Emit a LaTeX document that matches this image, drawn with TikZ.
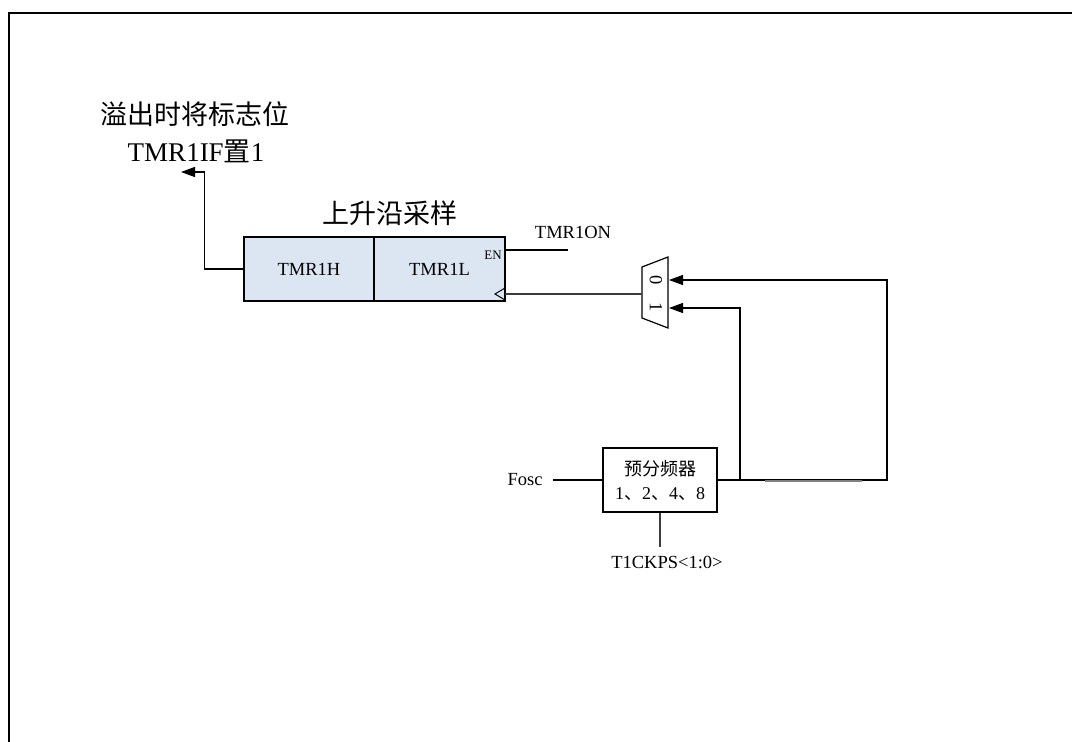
\documentclass[tikz,border=0pt]{standalone}
\usepackage{fontspec}
\setmainfont{Liberation Serif}
\newfontfamily\cjk{Noto Sans CJK SC}
\usetikzlibrary{arrows.meta}
\definecolor{regblue}{RGB}{220,230,242}
\definecolor{wire}{RGB}{60,60,60}
\begin{document}
\begin{tikzpicture}[x=1pt,y=-1pt, line width=1.2pt,
  lbl/.style={inner sep=0pt, font=\fontsize{18.5}{22}\selectfont},
  big/.style={inner sep=0pt, font=\fontsize{27}{32}\selectfont},
  reg/.style={draw, fill=regblue, minimum width=130pt, minimum height=64pt, inner sep=0pt, font=\fontsize{18.5}{22}\selectfont},
  arr/.style={-{Triangle[length=14pt,width=10pt]}}]
\useasboundingbox (0,0) rectangle (1072,742);
\draw[line width=1.6pt] (1072,13) -- (9,13) -- (9,742);

% register
\node[reg] (h) at (309,269) {TMR1H};
\node[reg, minimum width=131pt] (l) at (439.5,269) {TMR1L};
\node[inner sep=0pt, font=\fontsize{13}{15}\selectfont] (en) at (493,255) {EN};
\node[big] (title) at (390,213) {\cjk 上升沿采样};

% overflow
\node[big] (ovf1) at (195,114) {\cjk 溢出时将标志位};
\node[big] (ovf2) at (196,151) {TMR1IF{\cjk 置}1};
\coordinate (ovtip) at (181,172);
\draw[arr] (h.west) -- ++(-39,0) |- (ovtip);

% enable
\coordinate (onend) at (568,250);
\draw (l.east |- onend) -- (onend);
\node[lbl] (on) at (573,232) {TMR1ON};

% clock input
\coordinate (clk) at (505,294);
\draw[line width=1pt] (clk) ++(0,-6) -- ++(-10,6) -- ++(10,6);

% mux
\draw[fill=white] (642,267) -- (668,257) -- (668,328) -- (642,318) -- cycle;
\coordinate (mout) at (642,294);
\coordinate (min0) at (669,280);
\coordinate (min1) at (669,308);
\node[lbl, rotate=-90] (m0) at (656,280) {0};
\node[lbl, rotate=-90] (m1) at (656,307) {1};
\draw[wire] (mout) -- (clk);

% prescaler
\node[draw, minimum width=114pt, minimum height=64pt, align=center, inner sep=0pt,
      font=\fontsize{18}{24}\selectfont] (pre) at (660,480)
      {{\cjk 预分频器}\\1{\cjk 、}2{\cjk 、}4{\cjk 、}8};
\node[lbl] (fosc) at (525,480) {Fosc};
\draw ([xshift=10pt]fosc.east) -- (pre.west);
\node[lbl] (ck) at (667,562) {T1CKPS<1:0>};
\coordinate (ckt) at (660,547);
\draw[wire] (pre.south) -- (ckt);

% outputs to mux
\coordinate (j1) at (740,480);
\coordinate (j2) at (887,480);
\draw[arr] (pre.east) -- (j2) |- (min0);
\draw[arr] (j1) |- (min1);
\draw[gray, line width=1.6pt] (765,481) -- (862,481);
\end{tikzpicture}
\end{document}
